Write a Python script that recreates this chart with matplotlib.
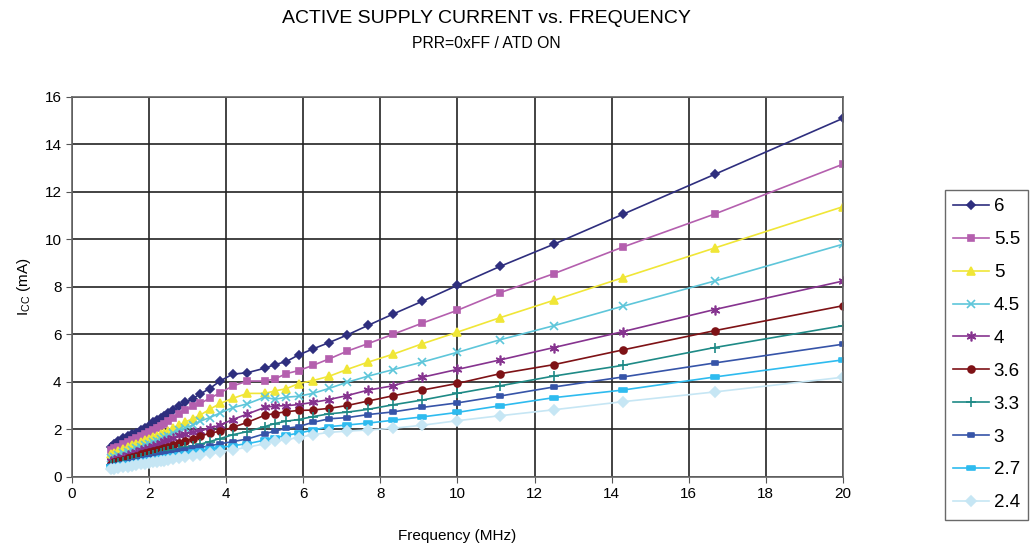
import matplotlib
matplotlib.use("Agg")
import matplotlib.pyplot as plt
from matplotlib.path import Path

plt.rcParams["font.family"] = ["Liberation Sans", "DejaVu Sans"]

# frequency points (MHz)
freq = [1.0, 1.1, 1.2, 1.33, 1.45, 1.55, 1.67, 1.8, 1.9, 2.0,
        2.1, 2.2, 2.3, 2.4, 2.5, 2.63, 2.78, 2.94, 3.13, 3.33,
        3.57, 3.85, 4.17, 4.55, 5.0, 5.26, 5.56, 5.88, 6.25, 6.67,
        7.14, 7.69, 8.33, 9.09, 10.0, 11.11, 12.5, 14.29, 16.67, 20.0]

# supply current (mA) per supply voltage
icc_6 = [1.25, 1.38, 1.52, 1.63, 1.73, 1.8, 1.87, 1.97, 2.05, 2.16,
         2.3, 2.4, 2.48, 2.57, 2.68, 2.82, 2.98, 3.14, 3.3, 3.5,
         3.72, 4.05, 4.33, 4.39, 4.58, 4.73, 4.86, 5.14, 5.39, 5.66,
         5.98, 6.39, 6.86, 7.4, 8.07, 8.87, 9.8, 11.06, 12.74, 15.1]
icc_55 = [1.12, 1.2, 1.28, 1.38, 1.47, 1.54, 1.63, 1.74, 1.82, 1.9,
          1.98, 2.07, 2.16, 2.25, 2.35, 2.5, 2.66, 2.82, 2.97, 3.1,
          3.31, 3.55, 3.83, 4.04, 4.04, 4.13, 4.35, 4.48, 4.7, 4.97,
          5.3, 5.62, 6.01, 6.48, 7.02, 7.76, 8.56, 9.68, 11.07, 13.17]
icc_5 = [0.95, 1.02, 1.09, 1.18, 1.27, 1.33, 1.4, 1.48, 1.54, 1.6,
         1.67, 1.74, 1.8, 1.87, 1.94, 2.05, 2.18, 2.32, 2.45, 2.61,
         2.85, 3.1, 3.31, 3.52, 3.52, 3.62, 3.72, 3.93, 4.06, 4.24,
         4.53, 4.84, 5.17, 5.61, 6.1, 6.71, 7.44, 8.39, 9.64, 11.38]
icc_45 = [0.8, 0.86, 0.92, 1.0, 1.07, 1.12, 1.2, 1.28, 1.34, 1.4,
          1.46, 1.53, 1.6, 1.68, 1.74, 1.85, 1.96, 2.06, 2.18, 2.35,
          2.5, 2.7, 2.92, 3.08, 3.36, 3.27, 3.36, 3.4, 3.52, 3.73,
          3.99, 4.25, 4.52, 4.84, 5.25, 5.78, 6.37, 7.19, 8.25, 9.8]
icc_4 = [0.66, 0.72, 0.78, 0.86, 0.92, 0.98, 1.04, 1.12, 1.18, 1.24,
         1.3, 1.36, 1.43, 1.5, 1.56, 1.65, 1.75, 1.82, 1.88, 1.95,
         2.05, 2.19, 2.42, 2.65, 2.93, 2.99, 3.0, 3.05, 3.14, 3.26,
         3.43, 3.66, 3.84, 4.2, 4.53, 4.93, 5.45, 6.12, 7.05, 8.25]
icc_36 = [0.56, 0.61, 0.66, 0.73, 0.79, 0.84, 0.89, 0.96, 1.0, 1.05,
          1.09, 1.13, 1.18, 1.22, 1.28, 1.36, 1.44, 1.52, 1.62, 1.72,
          1.84, 1.93, 2.09, 2.3, 2.6, 2.67, 2.75, 2.8, 2.82, 2.89,
          3.01, 3.2, 3.42, 3.66, 3.94, 4.35, 4.73, 5.35, 6.16, 7.21]
icc_33 = [0.5, 0.54, 0.58, 0.63, 0.68, 0.72, 0.76, 0.82, 0.86, 0.9,
          0.94, 0.98, 1.03, 1.07, 1.1, 1.15, 1.19, 1.25, 1.3, 1.38,
          1.49, 1.62, 1.78, 1.91, 2.12, 2.25, 2.35, 2.42, 2.54, 2.66,
          2.73, 2.85, 3.04, 3.24, 3.52, 3.84, 4.25, 4.7, 5.45, 6.37]
icc_3 = [0.45, 0.48, 0.52, 0.56, 0.6, 0.63, 0.67, 0.72, 0.76, 0.8,
         0.84, 0.87, 0.91, 0.95, 0.98, 1.03, 1.09, 1.14, 1.2, 1.25,
         1.31, 1.4, 1.49, 1.6, 1.82, 1.93, 2.05, 2.12, 2.3, 2.45,
         2.5, 2.63, 2.74, 2.93, 3.12, 3.41, 3.79, 4.21, 4.8, 5.59]
icc_27 = [0.4, 0.43, 0.46, 0.5, 0.53, 0.56, 0.6, 0.64, 0.67, 0.7,
          0.73, 0.76, 0.79, 0.82, 0.85, 0.89, 0.94, 0.98, 1.04, 1.1,
          1.17, 1.24, 1.32, 1.4, 1.55, 1.65, 1.75, 1.85, 1.97, 2.12,
          2.19, 2.27, 2.39, 2.53, 2.72, 3.0, 3.34, 3.66, 4.21, 4.93]
icc_24 = [0.32, 0.35, 0.38, 0.41, 0.44, 0.47, 0.5, 0.53, 0.56, 0.58,
          0.61, 0.64, 0.66, 0.69, 0.72, 0.75, 0.79, 0.83, 0.88, 0.93,
          1.0, 1.07, 1.15, 1.25, 1.4, 1.5, 1.58, 1.66, 1.78, 1.88,
          1.93, 1.98, 2.05, 2.18, 2.37, 2.58, 2.83, 3.17, 3.58, 4.2]

labels = ["6", "5.5", "5", "4.5", "4", "3.6", "3.3", "3", "2.7", "2.4"]
series = [icc_6, icc_55, icc_5, icc_45, icc_4, icc_36, icc_33, icc_3, icc_27, icc_24]

# excel-like colours and markers
colors = ["#2E2E7E", "#B45FAE", "#F0E637", "#5EC6DA", "#86338F",
          "#7E1216", "#1E8A86", "#3654A8", "#2EBBEF", "#C6E6F4"]
bar = Path([(-1, -0.45), (1, -0.45), (1, 0.45), (-1, 0.45), (-1, -0.45)],
           [Path.MOVETO, Path.LINETO, Path.LINETO, Path.LINETO, Path.CLOSEPOLY])
markers = ["D", "s", "^", "x", (6, 2, 0), "o", "+", bar, bar, "D"]
sizes = [4.5, 5, 6, 6, 7, 5, 7, 5, 6, 5]

fig = plt.figure(figsize=(10.34, 5.52), dpi=100)
ax = fig.add_axes([0.0696, 0.1359, 0.7456, 0.6884])

for y, lab, c, m, s in zip(series, labels, colors, markers, sizes):
    ax.plot(freq, y, color=c, marker=m, markersize=s, linewidth=1.2,
            markeredgewidth=1.2, label=lab)

ax.set_xlim(0, 20)
ax.set_ylim(0, 16)
ax.set_xticks(range(0, 21, 2))
ax.set_yticks(range(0, 17, 2))
ax.grid(True, color="#222222", linewidth=1.2)
ax.set_axisbelow(True)
ax.tick_params(labelsize=11, length=4, color="#555555")
for sp in ax.spines.values():
    sp.set_color("#666666")
    sp.set_linewidth(1.2)

ax.set_xlabel("Frequency (MHz)", fontsize=11, labelpad=20)
ax.set_ylabel("I$_{\\mathregular{CC}}$ (mA)", fontsize=11, labelpad=8)

fig.text(0.47, 0.966, "ACTIVE SUPPLY CURRENT vs. FREQUENCY", ha="center",
         va="center", fontsize=14)
fig.text(0.47, 0.922, "PRR=0xFF / ATD ON", ha="center", va="center", fontsize=11.3)

leg = ax.legend(loc="upper left", bbox_to_anchor=(0.9139, 0.656),
                bbox_transform=fig.transFigure, borderaxespad=0,
                fontsize=13.5, frameon=True, fancybox=False,
                edgecolor="#444444", handlelength=1.9,
                labelspacing=0.84, borderpad=0.45, handletextpad=0.25)
leg.get_frame().set_linewidth(1.0)

fig.savefig("out.png", dpi=100)
